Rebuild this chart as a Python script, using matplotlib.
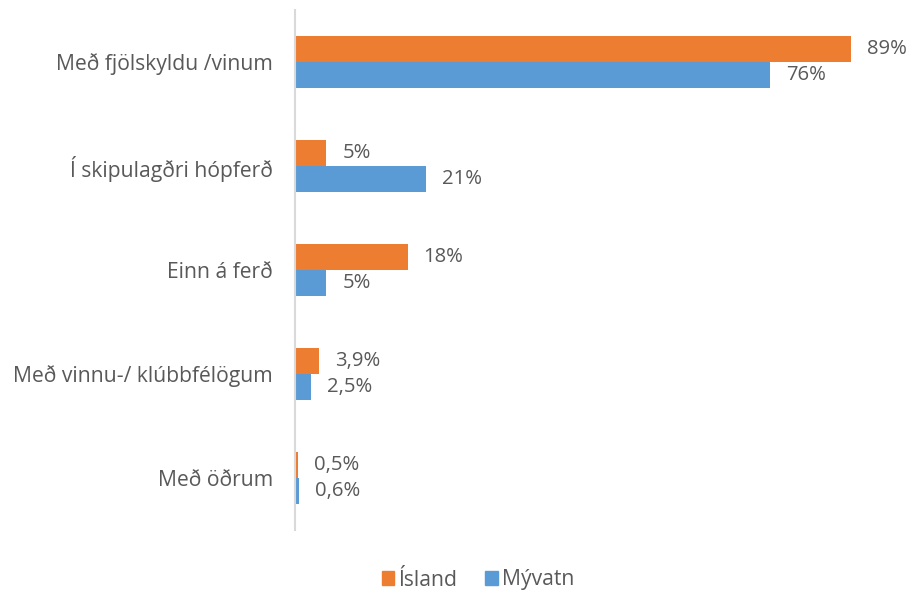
import matplotlib
matplotlib.use("Agg")
import matplotlib.pyplot as plt
from matplotlib.patches import Patch

categories = ["Með fjölskyldu /vinum", "Í skipulagðri hópferð", "Einn á ferð",
              "Með vinnu-/ klúbbfélögum", "Með öðrum"]
island = [89, 5, 18, 3.9, 0.5]
myvatn = [76, 21, 5, 2.5, 0.6]
island_labels = ["89%", "5%", "18%", "3,9%", "0,5%"]
myvatn_labels = ["76%", "21%", "5%", "2,5%", "0,6%"]
series_names = ["Ísland", "Mývatn"]

plt.rcParams['font.family'] = ['Open Sans', 'DejaVu Sans']
TXT = "#595959"
ORANGE = "#ED7D31"
BLUE = "#5B9BD5"
FS = 15.2

fig = plt.figure(figsize=(9.11, 5.92), dpi=100)
ax = fig.add_axes([295/911, 1-530/592, (870-295)/911, 520/592])

h = 0.25
ys = list(range(len(categories)))
b1 = ax.barh([y - h/2 for y in ys], island, height=h, color=ORANGE)
b2 = ax.barh([y + h/2 for y in ys], myvatn, height=h, color=BLUE)

for bars, labs in ((b1, island_labels), (b2, myvatn_labels)):
    for rect, lab in zip(bars, labs):
        ax.annotate(lab, (rect.get_width(), rect.get_y() + rect.get_height()/2),
                    xytext=(11.5, 0), textcoords="offset points", va="center", ha="left",
                    fontsize=14.6, color=TXT)

ax.set_ylim(len(categories) - 0.5, -0.5)
ax.set_xlim(0, 92)
ax.set_yticks(ys)
ax.set_yticklabels(categories, fontsize=FS, color=TXT)
ax.tick_params(axis="y", length=0, pad=16)
ax.set_xticks([])
for s in ["top", "right", "bottom"]:
    ax.spines[s].set_visible(False)
ax.spines["left"].set_color("#D9D9D9")
ax.spines["left"].set_linewidth(1.5)

handles = [Patch(color=ORANGE), Patch(color=BLUE)]
fig.legend(handles, series_names, loc="center", bbox_to_anchor=(478/911, 1-580/592),
           ncol=2, frameon=False, fontsize=FS, labelcolor=TXT,
           handlelength=0.6, handleheight=0.6, handletextpad=0.2, columnspacing=1.3)

fig.savefig("out.png", dpi=100)
